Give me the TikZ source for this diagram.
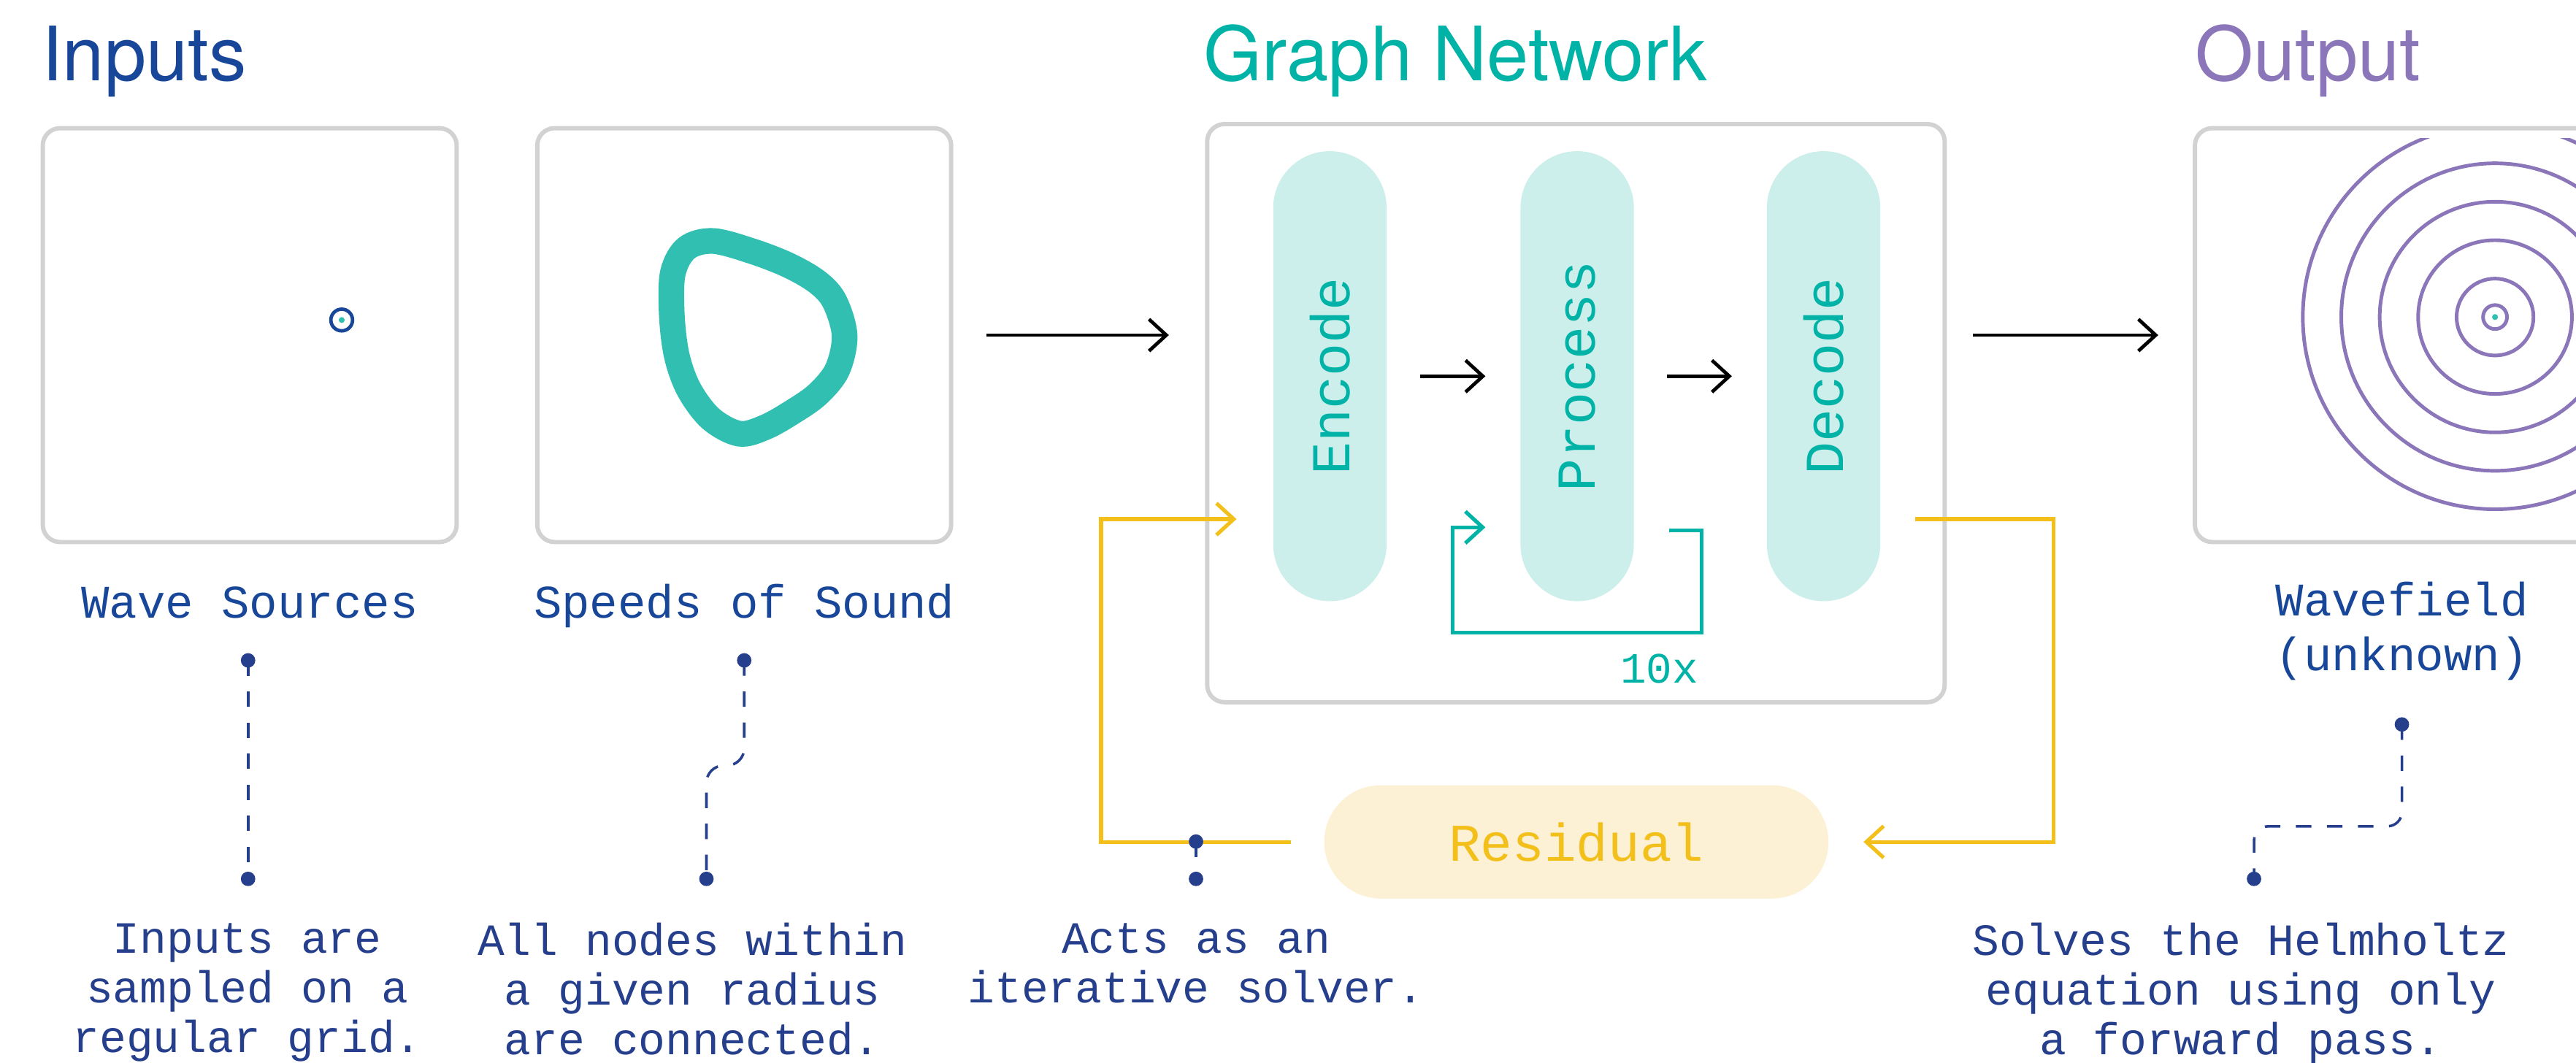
\documentclass[tikz,border=0pt]{standalone}
\usepackage{graphicx}
\usepackage{fontspec}
\setmainfont{TeX Gyre Heros}
\setmonofont{Liberation Mono}
\usepackage{tikz}
\usetikzlibrary{arrows.meta}
\pgfdeclarelayer{edgelayer}
\pgfsetlayers{edgelayer,main}
\definecolor{inblue}{HTML}{18479A}
\definecolor{navy}{HTML}{263F8C}
\definecolor{gnteal}{HTML}{00B3A6}
\definecolor{ringteal}{HTML}{31BFB1}
\definecolor{pillfill}{HTML}{CDEFEC}
\definecolor{wavepurple}{HTML}{8B76B9}
\definecolor{resyellow}{HTML}{F3C01B}
\definecolor{resfill}{HTML}{FCF1D4}
\definecolor{boxgray}{HTML}{D2D2D2}
\tikzstyle{panel}=[draw=boxgray, line width=1.5pt, rounded corners=6pt, minimum width=5.04cm, minimum height=5.04cm, inner sep=0pt]
\tikzstyle{pill}=[fill=pillfill, rounded corners=19.6pt, minimum width=1.38cm, minimum height=5.48cm, inner sep=0pt, text=gnteal, font=\ttfamily\fontsize{19}{19}\selectfont]
\tikzstyle{flow}=[draw=black, line width=1.2pt, -{Straight Barb[length=6pt,width=11pt]}]
\tikzstyle{iterline}=[draw=gnteal, line width=1.3pt, -{Straight Barb[length=6pt,width=11pt]}]
\tikzstyle{resline}=[draw=resyellow, line width=1.3pt, -{Straight Barb[length=6pt,width=11pt]}]
\tikzstyle{lead}=[draw=navy, line width=0.9pt, dash pattern=on 5.35pt off 5.4pt]
\tikzstyle{leaddot}=[circle, fill=navy, minimum size=5pt, inner sep=0pt]
\tikzstyle{wave}=[draw=wavepurple, line width=1.25pt]
\tikzstyle{heading}=[anchor=base west, inner sep=0pt, font=\fontsize{26}{26}\selectfont]
\tikzstyle{tag}=[inner sep=0pt, text=inblue, align=center, font=\ttfamily\fontsize{16.2}{18.8}\selectfont]
\tikzstyle{note}=[anchor=north, inner sep=0pt, text=navy, align=center, font=\ttfamily\fontsize{15.5}{17.25}\selectfont]
\begin{document}
\begin{tikzpicture}[x=0.02cm, y=-0.02cm]
\useasboundingbox (0,0) rectangle (1568,647);
\node[heading, text=inblue] (tin) at (25,49) {Inputs};
\node[heading, text=gnteal] (tgn) at (732.5,49) {Graph Network};
\node[heading, text=wavepurple] (tout) at (1336,49) {Output};
\node[panel] (src) at (152,204) {};
\node[panel] (sos) at (453,204) {};
\node[panel, minimum width=8.98cm, minimum height=7.04cm] (gn) at (959.25,251.5) {};
\node[panel] (out) at (1462,204) {};
\node[pill] (enc) at (809.5,229) {\rotatebox{90}{Encode}};
\node[pill] (proc) at (960,229) {\rotatebox{90}{Process}};
\node[pill] (dec) at (1110,229) {\rotatebox{90}{Decode}};
\node[pill, fill=resfill, text=resyellow, minimum width=6.14cm, minimum height=1.38cm, font=\ttfamily\fontsize{18.4}{18.4}\selectfont] (res) at (959.5,512.5) {Residual};
\coordinate (ws) at (208,194.8);
\draw[inblue, line width=1.2pt] (ws) circle[radius=6.6];
\fill[ringteal] (ws) circle[radius=1.8];
\draw[ringteal, line width=8.9pt] plot[smooth cycle, tension=0.55] coordinates {(434.1,146.7) (457.8,152.9) (480,161.5) (497.8,171.9) (508.1,183.7) (514.1,204.4) (509.6,225.2) (497.8,239.9) (483,250.4) (466,260) (450,264) (432.6,254.8) (419.3,237) (411.9,216.3) (408.9,191.1) (409.6,166) (418,151)};
\coordinate (wf) at (1518.7,193);
\begin{scope}
\clip (1336,84) rectangle (1568,330);
\foreach \r in {23.4,46.8,70.2,93.6,117}
  \draw[wave] (wf) circle[radius=\r];
\end{scope}
\draw[wave] (wf) circle[radius=7.3];
\fill[ringteal] (wf) circle[radius=1.8];
\draw[flow] ([xshift=0.4cm]sos.east) -- ([xshift=-0.44cm]gn.west |- sos.east);
\draw[flow] ([xshift=0.4cm]enc.east) -- ([xshift=-0.42cm]proc.west);
\draw[flow] ([xshift=0.4cm]proc.east) -- ([xshift=-0.42cm]dec.west);
\draw[flow] ([xshift=0.32cm]gn.east |- out.west) -- ([xshift=-0.42cm]out.west);
\draw[iterline] ([shift={(21,94)}]proc.east) -- ++(20,0) -- ++(0,62) -| ([shift={(-41,92)}]proc.west) -- ([shift={(-21,92)}]proc.west);
\node[font=\ttfamily\fontsize{15}{15}\selectfont, text=gnteal, anchor=base, inner sep=0pt] (iter) at (1010,415.6) {10x};
\draw[resline] ([shift={(21,87)}]dec.east) -- ++(84,0) |- ([xshift=0.42cm]res.east);
\draw[resline] ([xshift=-0.4cm]res.west) -- ++(-115.5,0) |- ([shift={(-22,87)}]enc.west);
\node[tag, anchor=base] (srclab) at (152,376) {Wave Sources};
\node[tag, anchor=base] (soslab) at (453,376) {Speeds of Sound};
\node[tag, anchor=north] (outlab) at (1462,354) {Wavefield\\(unknown)};
\node[leaddot] (a1) at (151,402) {};
\node[leaddot] (a2) at (151,535) {};
\node[leaddot] (b1) at (453,402) {};
\node[leaddot] (b2) at (430,535) {};
\node[leaddot] (c1) at (728,512.3) {};
\node[leaddot] (c2) at (728,535) {};
\node[leaddot] (d1) at (1462,441) {};
\node[leaddot] (d2) at (1372,535) {};
\begin{pgfonlayer}{edgelayer}
\draw[lead] (a1.center) -- (a2.center);
\draw[lead, rounded corners=6pt] (b1.center) -- ++(0,64) -| (b2.center);
\draw[lead] (c1.center) -- (c2.center);
\draw[lead, rounded corners=5pt] (d1.center) -- ++(0,62) -| (d2.center);
\end{pgfonlayer}
\node[note] (na) at (150.5,561.5) {Inputs are\\sampled on a\\regular grid.};
\node[note] (nb) at (421.5,561.5) {All nodes within\\a given radius\\are connected.};
\node[note] (nc) at (728,561.5) {Acts as an\\iterative solver.};
\node[note] (nd) at (1364,561.5) {Solves the Helmholtz\\equation using only\\a forward pass.};
\end{tikzpicture}
\end{document}
